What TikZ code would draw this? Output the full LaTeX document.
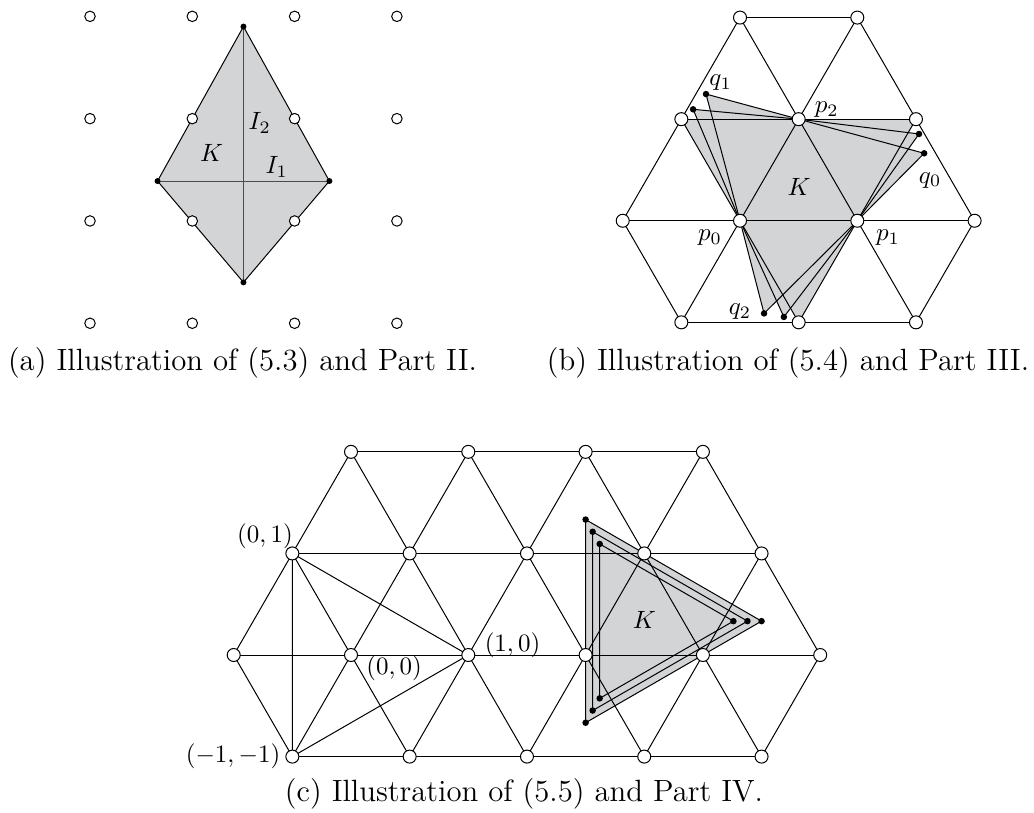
\documentclass[tikz,border=0pt]{standalone}
\definecolor{kgray}{RGB}{211,212,214}
\begin{document}
\begin{tikzpicture} [x = 1pt, y = 1pt,
	vtx/.style = {circle, draw, fill = white, inner sep = 0pt, minimum size = 5.2pt},
	smallvtx/.style = {vtx, minimum size = 4.2pt},
	dot/.style = {circle, fill = black, inner sep = 0pt, minimum size = 2.6pt},
	caption/.style = {anchor = base, font = \fontsize{12.3}{14.8}\selectfont}]
	\useasboundingbox (0,0) rectangle (413.6,324.8);
	% (a) square grid and the kite K
	\begin{scope} [shift = {(36pt,195.5pt)}, x = 40.92pt, y = 40.92pt]
	\coordinate (aT) at (1.5,2.9);
	\coordinate (aL) at (0.66,1.39);
	\coordinate (aR) at (2.34,1.39);
	\coordinate (aB) at (1.5,0.4);
	\fill [kgray] (aT) -- (aL) -- (aB) -- (aR) -- cycle;
	\draw (aT) -- (aL) -- (aB) -- (aR) -- cycle;
	\draw [black!70] (aT) -- (aB);
	\draw [black!70] (aL) -- (aR);
	\foreach \i in {0,...,3}
		\foreach \j in {0,...,3}
			\node [smallvtx] (a\i\j) at (\i,\j) {};
	\foreach \c in {aT,aL,aR,aB}
		\node [dot, minimum size = 2.4pt] (d\c) at (\c) {};
	\node (aK) at (1.19,1.66) {$K$};
	\node (aI2) at (1.66,1.955) {$I_2$};
	\node (aI1) at (1.825,1.531) {$I_1$};
	\end{scope}
	% (b) triangle K with the perturbed vertices q
	\begin{scope} [shift = {(296pt,236.5pt)}, x = 46.92pt, y = 46.92pt]
	\coordinate (bA1) at (0,1.732);
	\coordinate (bA2) at (1,1.732);
	\coordinate (bB1) at (-0.5,0.866);
	\coordinate (bB2) at (0.5,0.866);
	\coordinate (bB3) at (1.5,0.866);
	\coordinate (bC1) at (-1,0);
	\coordinate (bC2) at (0,0);
	\coordinate (bC3) at (1,0);
	\coordinate (bC4) at (2,0);
	\coordinate (bD1) at (-0.5,-0.866);
	\coordinate (bD2) at (0.5,-0.866);
	\coordinate (bD3) at (1.5,-0.866);
	\coordinate (bq1) at (-0.29,1.08);
	\coordinate (bq1x) at (-0.40,0.95);
	\coordinate (bq0) at (1.57,0.575);
	\coordinate (bq0x) at (1.526,0.74);
	\coordinate (bq2) at (0.205,-0.79);
	\coordinate (bq2x) at (0.374,-0.82);
	\fill [kgray] (bB1) -- (bB3) -- (bD2) -- cycle;
	\foreach \q in {bq1,bq1x} \fill [kgray] (bC2) -- (\q) -- (bB2) -- cycle;
	\foreach \q in {bq0,bq0x} \fill [kgray] (bC3) -- (\q) -- (bB2) -- cycle;
	\foreach \q in {bq2,bq2x} \fill [kgray] (bC2) -- (\q) -- (bC3) -- cycle;
	\draw (bA1) -- (bA2) (bB1) -- (bB3) (bC1) -- (bC4) (bD1) -- (bD3);
	\draw (bA1) -- (bD3) (bA2) -- (bC4) (bB1) -- (bD2) (bC1) -- (bD1);
	\draw (bA2) -- (bD1) (bA1) -- (bC1) (bB3) -- (bD2) (bC4) -- (bD3);
	\foreach \q in {bq1,bq1x} \draw (bC2) -- (\q) -- (bB2);
	\foreach \q in {bq0,bq0x} \draw (bC3) -- (\q) -- (bB2);
	\foreach \q in {bq2,bq2x} \draw (bC2) -- (\q) -- (bC3);
	\foreach \v in {bA1,bA2,bB1,bB2,bB3,bC1,bC2,bC3,bC4,bD1,bD2,bD3}
		\node [vtx] (n\v) at (\v) {};
	\foreach \q in {bq1,bq1x,bq0,bq0x,bq2,bq2x}
		\node [dot] (n\q) at (\q) {};
	\node (bK) at (0.503,0.29) {$K$};
	\node (bp0) at (-0.256,-0.147) {$p_0$};
	\node (bp1) at (1.262,-0.147) {$p_1$};
	\node (bp2) at (0.739,0.944) {$p_2$};
	\node (bq0l) at (1.62,0.347) {$q_0$};
	\node (bq1l) at (-0.165,1.174) {$q_1$};
	\node (bq2l) at (0,-0.776) {$q_2$};
	\end{scope}
	% (c) the larger mesh with the three nested triangles
	\begin{scope} [shift = {(140.4pt,62.8pt)}, x = 46.92pt, y = 46.92pt]
	\foreach \x [count = \n] in {0,1,2,3} \coordinate (cA\n) at (\x,1.732);
	\foreach \x [count = \n] in {-0.5,0.5,1.5,2.5,3.5} \coordinate (cB\n) at (\x,0.866);
	\foreach \x [count = \n] in {-1,0,1,2,3,4} \coordinate (cC\n) at (\x,0);
	\foreach \x [count = \n] in {-0.5,0.5,1.5,2.5,3.5} \coordinate (cD\n) at (\x,-0.866);
	\foreach \s [count = \n] in {1,0.88,0.76} {
		\coordinate (kU\n) at ({2.5-0.5*\s},{0.2887+0.866*\s});
		\coordinate (kV\n) at ({2.5+\s},0.2887);
		\coordinate (kW\n) at ({2.5-0.5*\s},{0.2887-0.866*\s});
	}
	\fill [kgray] (kU1) -- (kV1) -- (kW1) -- cycle;
	\draw (cA1) -- (cA4) (cB1) -- (cB5) (cC1) -- (cC6) (cD1) -- (cD5);
	\draw (cA1) -- (cD3) (cA2) -- (cD4) (cA3) -- (cD5) (cA4) -- (cC6) (cB1) -- (cD2) (cC1) -- (cD1);
	\draw (cA4) -- (cD3) (cA3) -- (cD2) (cA2) -- (cD1) (cA1) -- (cC1) (cB5) -- (cD4) (cC6) -- (cD5);
	\draw (cB1) -- (cD1) (cB1) -- (cC3) -- (cD1);
	\foreach \n in {1,2,3} {
		\draw (kU\n) -- (kV\n) -- (kW\n) -- cycle;
		\foreach \c in {kU,kV,kW} \node [dot] (n\c\n) at (\c\n) {};
	}
	\foreach \r/\m in {cA/4,cB/5,cC/6,cD/5}
		\foreach \n in {1,...,\m}
			\node [vtx] (n\r\n) at (\r\n) {};
	\node (cK) at (2.5,0.298) {$K$};
	\node (c01) at (-0.733,1.014) {$(0,1)$};
	\node (c10) at (1.377,0.085) {$(1,0)$};
	\node (c00) at (0.368,-0.113) {$(0,0)$};
	\node [left = 1.3pt] (cmm) at (cD1) {$(-1,-1)$};
	\end{scope}
	% captions
	\node [caption] (capa) at (97,176.8) {(a) Illustration of (5.3) and Part II.};
	\node [caption] (capb) at (315.2,176.8) {(b) Illustration of (5.4) and Part III.};
	\node [caption] (capc) at (209.6,4.4) {(c) Illustration of (5.5) and Part IV.};
\end{tikzpicture}
\end{document}
